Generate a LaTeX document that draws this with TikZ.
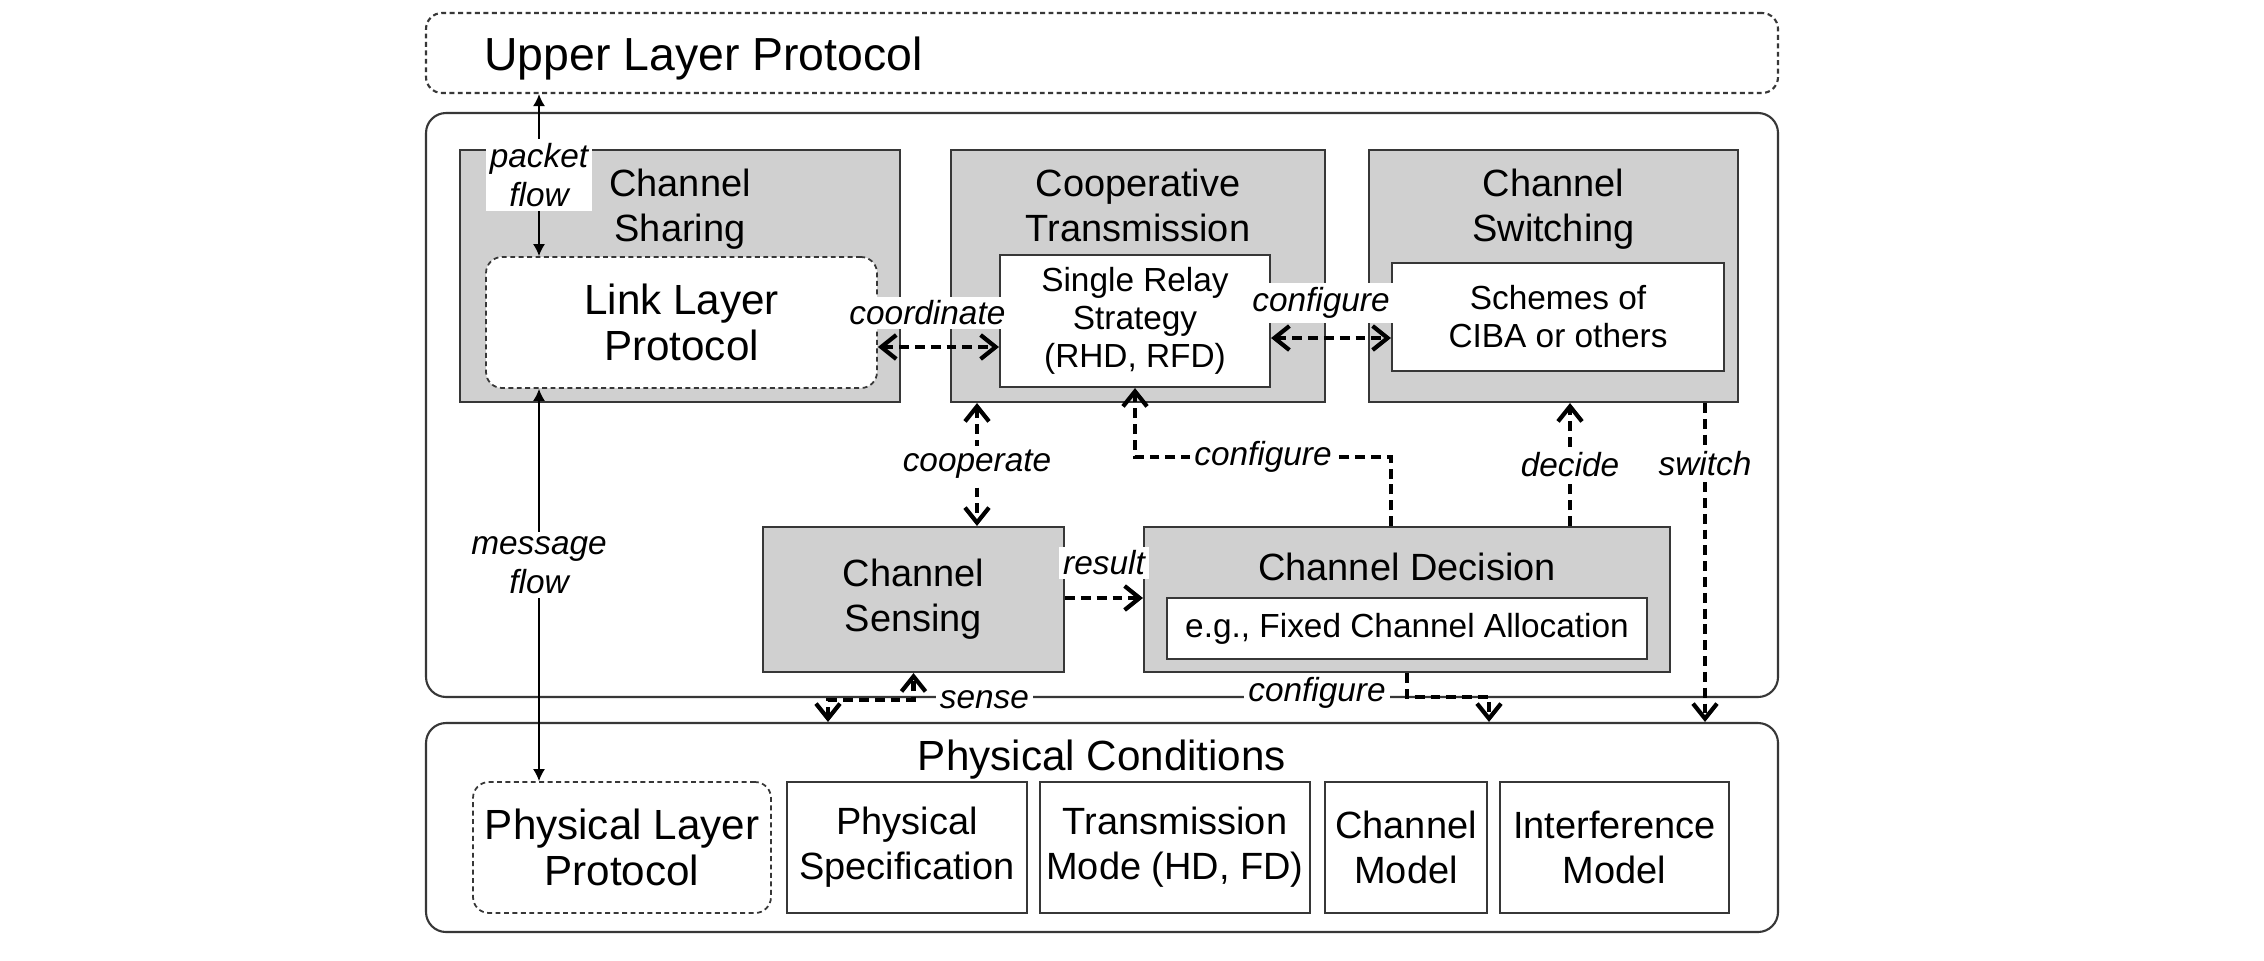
\documentclass[tikz,border=0pt]{standalone}
\usepackage{fontspec}
\setmainfont{Liberation Sans}
\usetikzlibrary{arrows.meta,positioning}
\definecolor{BoxGray} {RGB}{208,208,208}
\definecolor{LineDark}{RGB}{55,55,55}
\newcommand{\topsz}{\fontsize{13.2}{14}\selectfont}
\newcommand{\bigsz}{\fontsize{12}{13.1}\selectfont}
\newcommand{\midsz}{\fontsize{10.8}{12.8}\selectfont}
\newcommand{\smlsz}{\fontsize{9.5}{10.8}\selectfont}
\newcommand{\lblsz}{\fontsize{9.5}{11.2}\selectfont\itshape}

\begin{document}
\begin{tikzpicture}[x=0.1mm,y=-0.1mm,
  layerbox/.style={draw=LineDark,line width=0.6pt,rounded corners=2mm,
                   minimum width=135.2mm,inner sep=0pt},
  protobox/.style={draw=LineDark,line width=0.5pt,dash pattern=on 1.4pt off 1pt,
                   rounded corners=1.6mm,fill=white,inner sep=0pt,align=center,font=\bigsz},
  module/.style={draw=LineDark,line width=0.6pt,fill=BoxGray,inner sep=0pt,
                 minimum height=25.2mm},
  modtitle/.style={anchor=north,inner sep=0pt,align=center,font=\midsz},
  inbox/.style={draw=LineDark,line width=0.6pt,fill=white,inner sep=0pt,
                align=center,font=\smlsz},
  condbox/.style={draw=LineDark,line width=0.6pt,fill=white,inner sep=0pt,
                  align=center,font=\midsz,minimum height=13.1mm},
  flowlbl/.style={fill=white,inner sep=1.2pt,align=center,font=\lblsz},
  ctrl/.style={line width=1.2pt,dash pattern=on 2.8pt off 1.7pt,
               -{Straight Barb[length=1.5mm,width=2.4mm]}},
  ctrlboth/.style={ctrl,{Straight Barb[length=1.5mm,width=2.4mm]}-{Straight Barb[length=1.5mm,width=2.4mm]}},
  msgline/.style={line width=0.5pt,{Latex[length=1.2mm,width=1.2mm]}-{Latex[length=1.2mm,width=1.2mm]}}]
  \path[use as bounding box,fill=white] (0,0) rectangle (2264,960);

  %% Upper layer (dashed, top)
  \node[layerbox,dash pattern=on 1.4pt off 1pt,rounded corners=1.6mm,
        minimum height=8mm] (upper) at (1102,53) {};
  \node[font=\topsz,anchor=base west] (uppertxt) at (472,70) {Upper Layer Protocol};

  %% Main stack and physical conditions frames
  \node[layerbox,minimum height=58.4mm] (stack) at (1102,405) {};
  \node[layerbox,minimum height=20.9mm] (conds) at (1102,827.5) {};
  \node[font=\bigsz,anchor=base] (condtxt) at (1102,770) {Physical Conditions};

  %% Upper row of modules
  \node[module,minimum width=44mm] (share) at (680,276) {};
  \node[modtitle] (sharetxt) at (680,168) {Channel\\Sharing};
  \node[protobox,minimum width=39.1mm,minimum height=13.1mm] (link)
       at (681.5,322.5) {Link Layer\\Protocol};
  \node[module,minimum width=37.4mm] (coop) at (1138,276) {};
  \node[modtitle] (cooptxt) at (1138,168) {Cooperative\\Transmission};
  \node[inbox,minimum width=27mm,minimum height=13.2mm] (relay)
       at (1135,321) {Single Relay\\Strategy\\(RHD, RFD)};
  \node[module,minimum width=36.9mm] (switching) at (1553.5,276) {};
  \node[modtitle] (switchtxt) at (1553.5,168) {Channel\\Switching};
  \node[inbox,minimum width=33.2mm,minimum height=10.8mm] (schemes)
       at (1558,317) {Schemes of\\CIBA or others};

  %% Lower row of modules
  \node[module,minimum width=30.1mm,minimum height=14.5mm,align=center,
        font=\midsz] (sensing) at (913.5,599.5) {Channel\\Sensing};
  \node[module,minimum width=52.6mm,minimum height=14.5mm] (decision)
       at (1407,599.5) {};
  \node[font=\midsz,anchor=base] (dectxt) at (1407,580) {Channel Decision};
  \node[inbox,minimum width=48mm,minimum height=6.1mm] (fca)
       at (1407,628.5) {e.g., Fixed Channel Allocation};

  %% Physical conditions row
  \node[protobox,minimum width=29.8mm,minimum height=13.1mm] (phylayer)
       at (622,847.5) {Physical Layer\\Protocol};
  \node[condbox,minimum width=24mm] (spec) at (907,847.5) {Physical\\Specification};
  \node[condbox,minimum width=27mm] (mode) at (1175,847.5) {Transmission\\Mode (HD, FD)};
  \node[condbox,minimum width=16.2mm] (chmodel) at (1406,847.5) {Channel\\Model};
  \node[condbox,minimum width=22.9mm] (intf) at (1614.5,847.5) {Interference\\Model};

  %% Connector lanes
  \coordinate (pfx) at (539,0);
  \coordinate (cox) at (977,0);
  \coordinate (cdx) at (1391,0);
  \coordinate (dcx) at (1570,0);
  \coordinate (swx) at (1705,0);
  \coordinate (snx) at (828,0);
  \coordinate (cbx) at (1489,0);
  \coordinate (coy) at (0,347);
  \coordinate (cty) at (0,338);
  \coordinate (cmy) at (0,457);
  \coordinate (rsy) at (0,598);
  \coordinate (sny) at (0,700);
  \coordinate (cby) at (0,697);

  %% Packet / message flow (thin, solid)
  \draw[msgline] (upper.south -| pfx) -- node[flowlbl] {packet\\flow} (link.north -| pfx);
  \draw[msgline] (link.south -| pfx) -- node[flowlbl,pos=0.45] {message\\flow}
       (phylayer.north -| pfx);

  %% Control connectors (thick, dashed)
  \draw[ctrlboth] (link.east |- coy) -- node[flowlbl,xshift=-1.1mm,yshift=3.4mm]
       {coordinate} (relay.west |- coy);
  \draw[ctrlboth] (relay.east |- cty) -- node[flowlbl,xshift=-1mm,yshift=3.5mm]
       {configure} (schemes.west |- cty);
  \draw[ctrlboth] (coop.south -| cox) -- node[flowlbl] {cooperate} (sensing.north -| cox);
  \draw[ctrl] (decision.north -| cdx) -- (cdx |- cmy)
       -| node[flowlbl,pos=0.25] {configure} (relay.south);
  \draw[ctrl] (decision.north -| dcx) -- node[flowlbl] {decide} (switching.south -| dcx);
  \draw[ctrl] (switching.south -| swx) -- node[flowlbl,pos=0.19] {switch} (conds.north -| swx);
  \draw[ctrl] (sensing.east |- rsy) -- node[flowlbl,yshift=3.5mm] {result}
       (decision.west |- rsy);
  \draw[ctrlboth] (conds.north -| snx) -- (snx |- sny)
       -| node[flowlbl,pos=0.5,anchor=west,xshift=2mm] {sense} (sensing.south);
  \draw[ctrl] (decision.south) -- (decision.south |- cby)
       -| node[flowlbl,pos=0,anchor=east,xshift=-1.5mm,yshift=0.4mm] {configure}
       (cbx |- conds.north);
\end{tikzpicture}
\end{document}
